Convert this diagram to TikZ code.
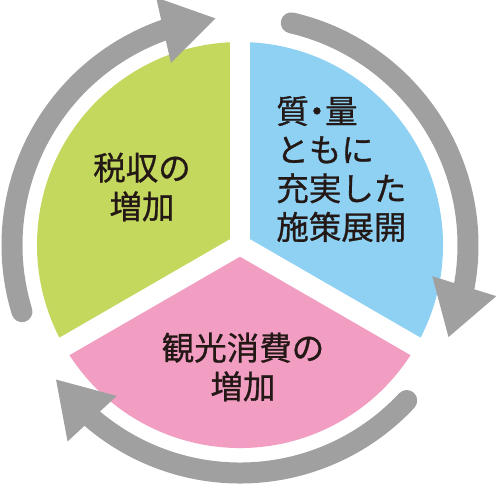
\documentclass[tikz,border=0pt]{standalone}
\usepackage{fontspec}
\newfontfamily\jpfont[FakeBold=0.8]{Noto Sans CJK JP}
\usetikzlibrary{arrows.meta, bending}
\definecolor{cycgreen}{RGB}{196,216,94}
\definecolor{cycblue}{RGB}{142,209,243}
\definecolor{cycpink}{RGB}{241,158,194}
\definecolor{cycgray}{RGB}{160,160,160}
\definecolor{cycink}{RGB}{35,24,21}
\tikzset{
  cycgap/.style={draw=white, line width=0.4cm},
  cycarrow/.style={draw=cycgray, line width=0.42cm, line cap=round,
                   -{Triangle[length=1.08cm, width=1.26cm]}},
  cyctext/.style={inner sep=0pt, text=cycink,
                  font=\jpfont\fontsize{18.5}{22}\selectfont},
}
\begin{document}
\begin{tikzpicture}[x=0.02cm, y=0.02cm]
  \useasboundingbox (-240,-240) rectangle (260,245);

  % Sectors
  \fill[cycgreen] (0,0) -- (90:203) arc[start angle=90, end angle=210, radius=203] -- cycle;
  \fill[cycblue] (0,0) -- (-30:203) arc[start angle=-30, end angle=90, radius=203] -- cycle;
  \fill[cycpink] (0,0) -- (210:203) arc[start angle=210, end angle=330, radius=203] -- cycle;

  % Gaps
  \draw[cycgap] (0,0) -- (90:215);
  \draw[cycgap] (0,0) -- (210:215);
  \draw[cycgap] (0,0) -- (330:215);

  % Arrows
  \draw[cycarrow] (197:228) arc[start angle=197, end angle=96, radius=228];
  \draw[cycarrow] (77:228) arc[start angle=77, end angle=-24, radius=228];
  \draw[cycarrow] (-43:228) arc[start angle=-43, end angle=-144, radius=228];

  % Labels
  \node[cyctext, align=center] (tax) at (-98,58) {税収の\\増加};
  \node[cyctext, align=left, anchor=west] (policy) at (36,76)
    {質\hspace{-0.25em}・\hspace{-0.25em}量\\ともに\\充実した\\施策展開};
  \node[cyctext, align=center] (spend) at (3,-122) {観光消費の\\増加};
\end{tikzpicture}
\end{document}
